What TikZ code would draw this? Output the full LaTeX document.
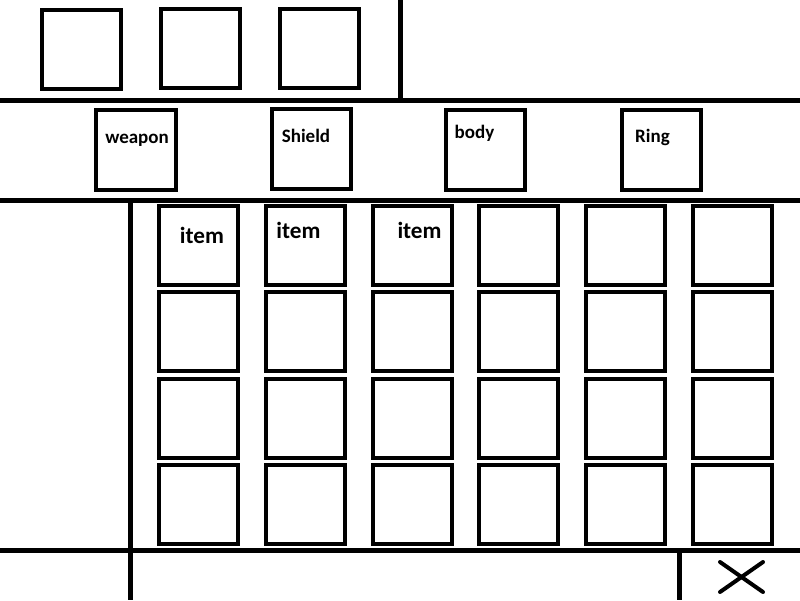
\documentclass[tikz,border=0pt]{standalone}
\usepackage{fontspec}
\setmainfont{Carlito}
\usetikzlibrary{positioning}

\begin{document}
\begin{tikzpicture}[x=0.025cm, y=-0.025cm, node distance=1cm and 1cm,
  slot/.style={draw, line width=0.1cm, outer sep=0pt, inner sep=0pt,
    minimum width=1.975cm, minimum height=1.975cm},
  divider/.style={line width=0.125cm},
  tag/.style={anchor=base, inner sep=0pt, font=\fontsize{13.5}{16}\selectfont\bfseries},
  itemtag/.style={anchor=base, inner sep=0pt, font=\fontsize{16.5}{20}\selectfont\bfseries}]

  \useasboundingbox (0,0) rectangle (800,600);

  % Divider end points
  \coordinate (headL) at (0,100.5);   \coordinate (headR) at (800,100.5);
  \coordinate (equipL) at (0,200.5);  \coordinate (equipR) at (800,200.5);
  \coordinate (footL) at (0,550.5);   \coordinate (footR) at (800,550.5);
  \coordinate (splitT) at (400.5,0);  \coordinate (splitB) at (400.5,100.5);
  \coordinate (sideT) at (130.5,200.5); \coordinate (sideB) at (130.5,600);
  \coordinate (closeT) at (679,550.5);  \coordinate (closeB) at (679,600);

  % Draw dividers
  \draw[divider] (headL) -- (headR);
  \draw[divider] (equipL) -- (equipR);
  \draw[divider] (footL) -- (footR);
  \draw[divider] (splitT) -- (splitB);
  \draw[divider] (sideT) -- (sideB);
  \draw[divider] (closeT) -- (closeB);

  % Quick slots
  \node[slot] (quick1) at (81.5,49.5) {};
  \node[slot] (quick2) [right=of quick1, yshift=0.025cm] {};
  \node[slot] (quick3) [right=of quick2] {};

  % Equipment slots
  \node[slot] (weapon) at (136,150) {};
  \node[slot] (shield) [right=2.4cm of weapon, yshift=0.025cm] {};
  \node[slot] (body) [right=2.375cm of shield, yshift=-0.025cm] {};
  \node[slot] (ring) [right=2.425cm of body] {};

  \node[tag] (weaponT) at (137,143) {weapon};
  \node[tag] (shieldT) at (306,142) {Shield};
  \node[tag] (bodyT) at (474.5,138) {body};
  \node[tag] (ringT) at (652.5,142) {Ring};

  % Inventory grid
  \foreach \c in {0,...,5}
    \foreach \r in {0,...,3}
      \node[slot] (cell-\c-\r) at (198.5+106.8*\c, 245.5+86.3*\r) {};

  \node[itemtag] (item1) at (202,243) {item};
  \node[itemtag] (item2) at (298.5,238) {item};
  \node[itemtag] (item3) at (419.5,238) {item};

  % Close button
  \coordinate (crossA) at (720,562); \coordinate (crossB) at (763,592);
  \coordinate (crossC) at (720,592); \coordinate (crossD) at (763,562);
  \draw[line width=0.1cm, line cap=round] (crossA) -- (crossB);
  \draw[line width=0.1cm, line cap=round] (crossC) -- (crossD);
\end{tikzpicture}
\end{document}
